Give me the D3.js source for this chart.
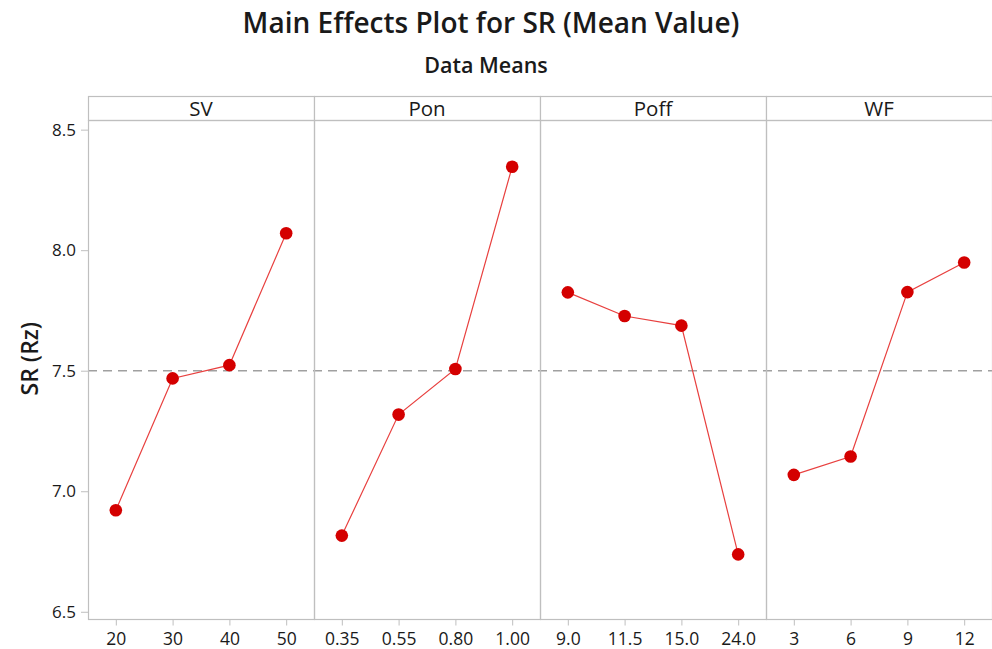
<!DOCTYPE html>
<html>
<head>
<meta charset="utf-8">
<script src="https://cdn.jsdelivr.net/npm/d3@7"></script>
<style>
  html, body { margin: 0; padding: 0; background: #fff; }
  svg { display: block; font-family: "Open Sans", "Noto Sans", sans-serif; }
</style>
</head>
<body>
<svg id="chart" width="992" height="649"></svg>
<script>
// Factor names shown in the panel strips
const factors = ["SV", "Pon", "Poff", "WF"];

// Level labels for each factor (x axis)
const svLevels   = ["20", "30", "40", "50"];
const ponLevels  = ["0.35", "0.55", "0.80", "1.00"];
const poffLevels = ["9.0", "11.5", "15.0", "24.0"];
const wfLevels   = ["3", "6", "9", "12"];

// Mean SR (Rz) at each level
const svMeans   = [6.921, 7.468, 7.523, 8.070];
const ponMeans  = [6.816, 7.318, 7.507, 8.346];
const poffMeans = [7.825, 7.727, 7.687, 6.738];
const wfMeans   = [7.068, 7.144, 7.826, 7.949];

// Overall mean (reference line) and y ticks
const grandMean = 7.5;
const yTicks = [6.5, 7.0, 7.5, 8.0, 8.5];

const levels = [svLevels, ponLevels, poffLevels, wfLevels];
const means  = [svMeans, ponMeans, poffMeans, wfMeans];

const svg = d3.select("#chart");

const left = 88, right = 992, stripTop = 96, plotTop = 120, plotBottom = 619;
const panelW = (right - left) / factors.length;

const y = d3.scaleLinear().domain([6.47, 8.54]).range([plotBottom, plotTop]);

const frameColor = "#bfbfbf";
const textColor = "#1a1a1a";

// Titles
svg.append("text")
  .attr("x", 491).attr("y", 33)
  .attr("text-anchor", "middle")
  .attr("font-size", 28)
  .attr("font-weight", 600)
  .attr("fill", textColor)
  .text("Main Effects Plot for SR (Mean Value)");
svg.append("text")
  .attr("x", 486).attr("y", 73)
  .attr("text-anchor", "middle")
  .attr("font-size", 21.5)
  .attr("font-weight", 600)
  .attr("fill", textColor)
  .text("Data Means");

// Y axis label
svg.append("text")
  .attr("transform", `translate(38,${y(7.55)}) rotate(-90)`)
  .attr("text-anchor", "middle")
  .attr("font-size", 23)
  .attr("font-weight", 600)
  .attr("fill", textColor)
  .text("SR (Rz)");

// Y axis
const yAxis = svg.append("g")
  .attr("transform", `translate(${left},0)`)
  .call(d3.axisLeft(y).tickValues(yTicks).tickFormat(d3.format(".1f")).tickSize(7).tickPadding(5));
yAxis.select(".domain").remove();
yAxis.selectAll(".tick line").attr("stroke", frameColor);
yAxis.selectAll(".tick text")
  .attr("font-size", 17).attr("font-weight", 500)
  .attr("fill", textColor).attr("font-family", "Open Sans, sans-serif");

// Reference line at the grand mean across all panels
svg.append("line")
  .attr("x1", left).attr("x2", right)
  .attr("y1", y(grandMean)).attr("y2", y(grandMean))
  .attr("stroke", "#a0a0a0").attr("stroke-width", 1.6)
  .attr("stroke-dasharray", "9,6");

const line = d3.line();

factors.forEach((f, i) => {
  const x0 = left + i * panelW;
  const x = d3.scalePoint().domain(levels[i]).range([x0, x0 + panelW]).padding(0.49);

  // Strip
  svg.append("rect")
    .attr("x", x0 + 0.5).attr("y", stripTop + 0.5)
    .attr("width", panelW).attr("height", plotTop - stripTop)
    .attr("fill", "#fff").attr("stroke", frameColor).attr("stroke-width", 1.2);
  svg.append("text")
    .attr("x", x0 + panelW / 2).attr("y", plotTop - 4)
    .attr("text-anchor", "middle")
    .attr("font-size", 20.5)
    .attr("font-weight", 500)
    .attr("fill", textColor)
    .text(f);

  // Panel border
  svg.append("rect")
    .attr("x", x0 + 0.5).attr("y", plotTop + 0.5)
    .attr("width", panelW).attr("height", plotBottom - plotTop)
    .attr("fill", "none").attr("stroke", frameColor).attr("stroke-width", 1.2);

  // X axis
  const xAxis = svg.append("g")
    .attr("transform", `translate(0,${plotBottom + 0.5})`)
    .call(d3.axisBottom(x).tickSize(6).tickPadding(7));
  xAxis.select(".domain").remove();
  xAxis.selectAll(".tick line").attr("stroke", frameColor);
  xAxis.selectAll(".tick text")
    .attr("font-size", 17.5).attr("font-weight", 500)
    .attr("fill", textColor).attr("font-family", "Open Sans, sans-serif");

  const pts = levels[i].map((l, j) => [x(l), y(means[i][j])]);

  svg.append("path")
    .attr("d", line(pts))
    .attr("fill", "none")
    .attr("stroke", "#e8403f")
    .attr("stroke-width", 1.2);

  svg.append("g").selectAll("circle")
    .data(pts)
    .join("circle")
    .attr("cx", d => d[0]).attr("cy", d => d[1])
    .attr("r", 6.3)
    .attr("fill", "#d40000");
});
</script>
</body>
</html>
